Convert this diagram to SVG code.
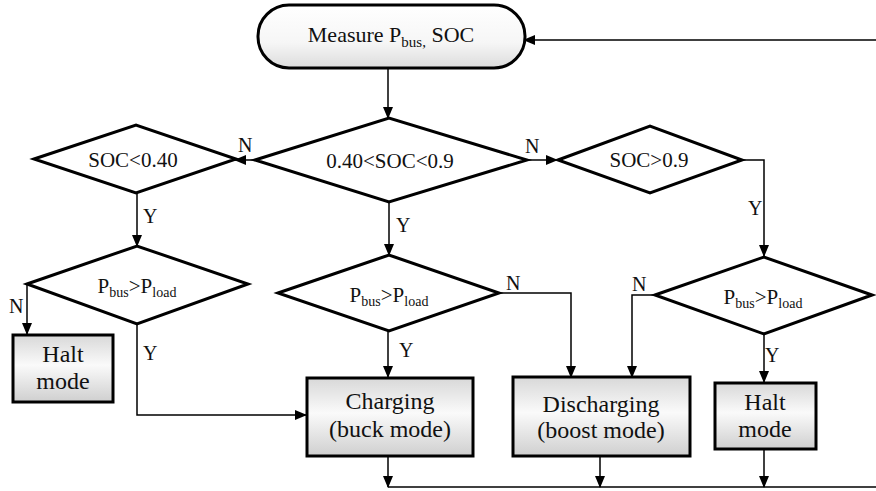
<svg xmlns="http://www.w3.org/2000/svg" width="876" height="491" viewBox="0 0 876 491">
<defs>
<linearGradient id="boxg" x1="0" y1="0" x2="0" y2="1">
<stop offset="0" stop-color="#d8d8d8"/>
<stop offset="0.45" stop-color="#fafafa"/>
<stop offset="1" stop-color="#cfcfcf"/>
</linearGradient>
<linearGradient id="termg" x1="0" y1="0" x2="0" y2="1">
<stop offset="0" stop-color="#ffffff"/>
<stop offset="0.6" stop-color="#f6f6f6"/>
<stop offset="1" stop-color="#dcdcdc"/>
</linearGradient>
<marker id="arr" markerUnits="userSpaceOnUse" markerWidth="12" markerHeight="10" refX="11" refY="5" orient="auto">
<path d="M0,0 L12,5 L0,10 Z" fill="#000"/>
</marker>
</defs>
<style>
.shape{stroke:#000;stroke-width:3;}
.dia{fill:#fff;stroke:#000;stroke-width:3;stroke-linejoin:miter;}
.box{fill:url(#boxg);stroke:#000;stroke-width:3;}
.t{font-family:"Liberation Serif","Times New Roman",serif;fill:#111;text-anchor:middle;}
.tb{font-size:24px;}
.td{font-size:21px;}
.lbl{font-family:"Liberation Serif","Times New Roman",serif;fill:#111;font-size:20px;}
.c{fill:none;stroke:#000;stroke-width:1.5;}
.ca{fill:none;stroke:#000;stroke-width:1.5;marker-end:url(#arr);}
</style>

<g id="connectors">
<path class="ca" d="M876,40 L524,40"/>
<path class="ca" d="M388,68 L388,118"/>
<path class="ca" d="M255,160 L235,160"/>
<path class="ca" d="M527,160 L557,160"/>
<path class="ca" d="M742,160 L764,160 L764,256"/>
<path class="ca" d="M137,193 L137,246"/>
<path class="ca" d="M389,202 L389,255"/>
<path class="ca" d="M27,284 L27,334"/>
<path class="ca" d="M137,324 L137,415 L306,415"/>
<path class="ca" d="M388,331 L388,377"/>
<path class="ca" d="M499,293 L571,293 L571,377"/>
<path class="ca" d="M655,295 L632,295 L632,377"/>
<path class="ca" d="M764,334 L764,382"/>
<path class="ca" d="M388,456 L388,487"/>
<path class="ca" d="M600,456 L600,487"/>
<path class="ca" d="M764,449 L764,487"/>
<path class="c" d="M388,487 L876,487"/>
<text class="lbl" x="238" y="152">N</text>
<text class="lbl" x="525" y="153">N</text>
<text class="lbl" x="748" y="215">Y</text>
<text class="lbl" x="143" y="223">Y</text>
<text class="lbl" x="396" y="232">Y</text>
<text class="lbl" x="9" y="313">N</text>
<text class="lbl" x="143" y="360">Y</text>
<text class="lbl" x="399" y="357">Y</text>
<text class="lbl" x="506" y="290">N</text>
<text class="lbl" x="632" y="291">N</text>
<text class="lbl" x="765" y="362">Y</text>
</g>

<g id="start">
<rect x="258" y="5" width="267" height="63" rx="31" ry="31" fill="url(#termg)" class="shape"/>
<text class="t" x="391" y="42" font-size="22">Measure P<tspan font-size="15" dy="5">bus,</tspan><tspan dy="-5"> SOC</tspan></text>
</g>

<g id="d_soc_low">
<polygon class="dia" points="34,159 136,125 236,159 136,193"/>
<text class="t td" x="133" y="167">SOC&lt;0.40</text>
</g>

<g id="d_soc_mid">
<polygon class="dia" points="255,160 389,118 527,160 389,202"/>
<text class="t td" x="390" y="168">0.40&lt;SOC&lt;0.9</text>
</g>

<g id="d_soc_high">
<polygon class="dia" points="558,160 650,126 742,160 650,193"/>
<text class="t td" x="649" y="167">SOC&gt;0.9</text>
</g>

<g id="d_p_left">
<polygon class="dia" points="27,284 137,246 248,284 137,324"/>
<text class="t td" x="137" y="293">P<tspan font-size="14" dy="4">bus</tspan><tspan dy="-4">&gt;P</tspan><tspan font-size="14" dy="4">load</tspan></text>
</g>

<g id="d_p_mid">
<polygon class="dia" points="278,293 389,255 499,293 389,331"/>
<text class="t td" x="389" y="302">P<tspan font-size="14" dy="4">bus</tspan><tspan dy="-4">&gt;P</tspan><tspan font-size="14" dy="4">load</tspan></text>
</g>

<g id="d_p_right">
<polygon class="dia" points="655,295 764,257 872,295 764,334"/>
<text class="t td" x="763" y="304">P<tspan font-size="14" dy="4">bus</tspan><tspan dy="-4">&gt;P</tspan><tspan font-size="14" dy="4">load</tspan></text>
</g>

<g id="halt_left">
<rect class="box" x="13" y="335" width="100" height="67"/>
<text class="t tb" x="63" y="362">Halt</text>
<text class="t tb" x="63" y="389">mode</text>
</g>

<g id="charging">
<rect class="box" x="307" y="378" width="166" height="78"/>
<text class="t tb" x="390" y="409">Charging</text>
<text class="t tb" x="390" y="437">(buck mode)</text>
</g>

<g id="discharging">
<rect class="box" x="513" y="377" width="177" height="79"/>
<text class="t tb" x="601" y="412">Discharging</text>
<text class="t tb" x="601" y="438">(boost mode)</text>
</g>

<g id="halt_right">
<rect class="box" x="715" y="383" width="101" height="66"/>
<text class="t tb" x="765" y="410">Halt</text>
<text class="t tb" x="765" y="437">mode</text>
</g>
</svg>
